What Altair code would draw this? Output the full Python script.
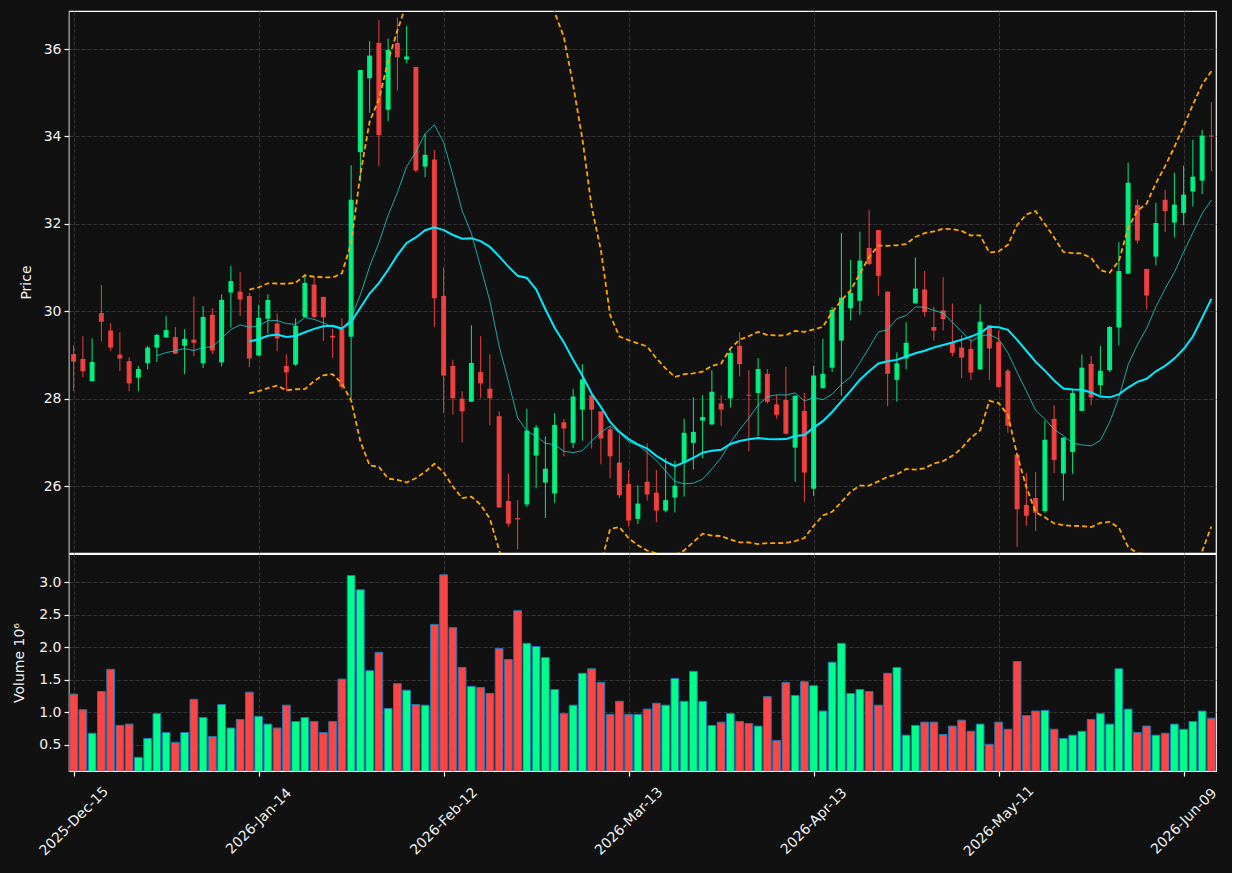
import altair as alt
import pandas as pd

tick_labels = ["2025-Dec-15", "2026-Jan-14", "2026-Feb-12", "2026-Mar-13",
               "2026-Apr-13", "2026-May-11", "2026-Jun-09"]

opens = [29.02, 28.91, 28.40, 29.96, 29.56, 29.01, 28.86, 28.48, 28.81, 29.17,
         29.40, 29.41, 29.21, 29.35, 28.81, 29.92, 28.83, 30.43, 30.45, 30.35,
         28.99, 29.83, 29.72, 28.75, 28.78, 29.87, 30.61, 30.33, 29.44, 29.60,
         29.42, 33.64, 35.33, 36.14, 34.61, 36.14, 35.76, 35.59, 33.31, 33.47,
         30.35, 28.75, 28.00, 27.93, 28.61, 28.23, 27.60, 25.66, 25.27, 25.58,
         26.70, 26.08, 25.83, 27.46, 26.99, 27.75, 28.08, 27.71, 27.30, 26.54,
         26.05, 25.25, 26.10, 25.85, 25.44, 25.74, 26.53, 26.99, 27.50, 27.41,
         27.89, 28.01, 29.21, 28.09, 28.13, 28.57, 27.87, 27.97, 26.88, 27.72,
         25.94, 28.24, 28.71, 29.33, 30.07, 30.24, 31.45, 31.86, 30.45, 28.43,
         28.92, 30.18, 30.50, 29.64, 30.02, 29.29, 29.17, 29.14, 28.67, 29.68,
         29.30, 28.64, 26.72, 25.57, 25.73, 25.43, 27.54, 26.29, 26.78, 27.72,
         28.80, 28.31, 28.65, 29.63, 30.86, 32.43, 30.97, 31.25, 32.55, 32.03,
         32.25, 32.74, 32.99, 34.02]

highs = [29.22, 29.43, 29.38, 30.60, 29.73, 29.52, 28.95, 28.75, 29.21, 29.48,
         29.89, 29.64, 29.59, 30.34, 30.12, 30.07, 30.39, 31.04, 30.90, 30.42,
         30.15, 30.39, 29.95, 29.02, 29.84, 30.84, 30.78, 30.33, 29.60, 29.84,
         33.34, 35.52, 36.18, 36.66, 36.24, 36.72, 36.53, 35.59, 34.06, 33.69,
         31.00, 28.89, 28.17, 29.68, 29.43, 29.02, 27.71, 26.28, 25.68, 27.77,
         27.40, 27.14, 27.67, 27.54, 28.23, 28.79, 28.11, 27.71, 27.38, 27.19,
         26.36, 26.02, 26.98, 26.37, 26.64, 26.58, 27.54, 28.03, 28.08, 28.65,
         28.08, 29.13, 29.52, 28.65, 28.93, 28.68, 28.09, 28.73, 28.07, 28.13,
         28.75, 29.37, 30.10, 31.79, 31.18, 31.82, 32.32, 31.86, 30.45, 29.06,
         29.75, 31.23, 30.92, 30.10, 30.78, 30.18, 29.45, 29.45, 30.16, 29.68,
         29.56, 28.68, 26.72, 26.30, 26.32, 27.50, 27.85, 27.11, 28.23, 29.01,
         28.98, 29.21, 29.66, 31.58, 33.40, 32.56, 30.97, 32.48, 32.78, 33.17,
         33.33, 33.92, 34.15, 34.79]

lows = [28.17, 28.49, 28.40, 29.31, 29.09, 28.63, 28.17, 28.17, 28.67, 28.84,
        29.40, 29.02, 28.56, 28.97, 28.70, 29.02, 28.74, 29.63, 29.89, 28.72,
        28.97, 29.49, 29.09, 28.17, 28.75, 29.87, 29.84, 29.32, 28.93, 28.21,
        28.01, 32.97, 34.54, 33.32, 34.35, 35.05, 35.68, 33.18, 33.07, 29.64,
        27.67, 27.64, 27.00, 27.93, 28.01, 27.39, 25.51, 25.07, 24.55, 25.52,
        25.95, 25.27, 25.62, 26.68, 26.87, 27.04, 26.86, 26.50, 26.18, 25.73,
        25.07, 25.13, 25.67, 25.17, 25.40, 25.40, 25.76, 26.38, 26.64, 27.41,
        27.38, 27.80, 28.51, 26.80, 27.14, 27.89, 27.54, 27.18, 26.10, 25.64,
        25.77, 28.24, 28.61, 28.07, 29.79, 29.92, 31.05, 30.36, 27.83, 27.93,
        28.67, 30.18, 29.88, 29.33, 29.56, 28.97, 28.47, 28.43, 28.67, 28.43,
        28.24, 27.22, 24.61, 25.09, 24.97, 25.39, 26.30, 25.67, 26.28, 27.72,
        27.85, 28.09, 28.61, 29.22, 30.86, 31.55, 30.04, 31.05, 31.81, 31.69,
        31.97, 32.40, 32.68, 33.21]

closes = [28.85, 28.63, 28.84, 29.76, 29.17, 28.92, 28.35, 28.68, 29.17, 29.46,
          29.57, 29.03, 29.37, 29.28, 29.87, 29.10, 30.26, 30.69, 30.27, 28.92,
          29.85, 30.26, 29.38, 28.60, 29.67, 30.65, 29.87, 29.86, 29.40, 28.27,
          32.55, 35.52, 35.85, 34.03, 35.98, 35.81, 35.83, 33.22, 33.58, 30.30,
          28.53, 28.01, 27.71, 28.82, 28.35, 28.01, 25.51, 25.14, 25.24, 27.27,
          27.34, 26.40, 27.40, 27.32, 28.05, 28.44, 27.75, 27.09, 26.68, 25.79,
          25.21, 25.60, 25.81, 25.44, 25.68, 26.01, 27.22, 27.24, 27.58, 28.16,
          27.75, 29.05, 28.79, 28.07, 28.68, 27.93, 27.63, 27.20, 28.07, 26.31,
          28.53, 28.57, 30.03, 30.31, 30.42, 31.16, 31.08, 30.81, 28.57, 28.81,
          29.28, 30.52, 29.98, 29.56, 29.82, 29.05, 28.94, 28.60, 29.76, 29.15,
          28.27, 27.38, 25.47, 25.32, 25.39, 27.06, 26.60, 27.11, 28.13, 28.71,
          28.03, 28.64, 29.64, 30.92, 32.94, 31.62, 30.36, 32.02, 32.29, 32.44,
          32.67, 33.08, 34.02, 34.00]

volumes = [1.28, 1.04, 0.68, 1.32, 1.66, 0.80, 0.82, 0.31, 0.60, 0.98,
           0.69, 0.54, 0.69, 1.20, 0.92, 0.63, 1.12, 0.76, 0.89, 1.31,
           0.94, 0.82, 0.76, 1.11, 0.86, 0.92, 0.86, 0.69, 0.86, 1.51,
           3.10, 2.88, 1.64, 1.92, 1.06, 1.44, 1.34, 1.12, 1.11, 2.35,
           3.11, 2.30, 1.69, 1.40, 1.38, 1.29, 1.98, 1.81, 2.56, 2.06,
           2.01, 1.84, 1.35, 0.98, 1.11, 1.60, 1.67, 1.46, 0.97, 1.17,
           0.97, 0.97, 1.05, 1.14, 1.11, 1.52, 1.17, 1.63, 1.17, 0.80,
           0.85, 0.98, 0.86, 0.83, 0.79, 1.24, 0.57, 1.46, 1.26, 1.47,
           1.41, 1.02, 1.77, 2.06, 1.29, 1.35, 1.32, 1.11, 1.60, 1.69,
           0.65, 0.80, 0.85, 0.85, 0.66, 0.79, 0.88, 0.71, 0.82, 0.51,
           0.85, 0.74, 1.78, 0.95, 1.02, 1.03, 0.74, 0.60, 0.65, 0.71,
           0.89, 0.98, 0.82, 1.67, 1.05, 0.69, 0.79, 0.65, 0.68, 0.82,
           0.74, 0.86, 1.02, 0.91]

price_ticks = [26, 28, 30, 32, 34, 36]
volume_ticks = [0.5, 1.0, 1.5, 2.0, 2.5, 3.0]

n = len(closes)
df = pd.DataFrame({
    "idx": list(range(n)),
    "open": opens, "high": highs, "low": lows, "close": closes,
    "volume": volumes,
})
df["dir"] = ["up" if c >= o else "down" for o, c in zip(opens, closes)]

FONT = "DejaVu Sans"
W = 1147
x_scale = alt.Scale(domain=[-0.5, n - 0.5], nice=False, zero=False)
price_scale = alt.Scale(domain=[24.47, 36.87], nice=False, zero=False)
vol_scale = alt.Scale(domain=[0.10, 3.43], nice=False, zero=False)
tick_vals = [20 * k for k in range(len(tick_labels))]
label_expr = "[" + ",".join("'%s'" % t for t in tick_labels) + "][round(datum.value/20)]"

candle_colors = alt.Scale(domain=["up", "down"], range=["#00ff88", "#ff4444"])
col = alt.Color("dir:N", scale=candle_colors, legend=None)

x_top_axis = alt.Axis(values=tick_vals, labels=False, ticks=False, domain=False,
                      grid=True, title=None)
price_axis = alt.Axis(values=price_ticks, title="Price", titleX=-43,
                      titleBaseline="middle", labelPadding=3)


def xq(field):
    return alt.X(field, type="quantitative", scale=x_scale, axis=x_top_axis, title=None)


def yp(field):
    return alt.Y(field, type="quantitative", scale=price_scale, axis=price_axis,
                 title="Price")


base = alt.Chart(df)

wicks = base.mark_rule(strokeWidth=1, opacity=0.9, clip=True).encode(
    x=xq("idx"), y=yp("low"), y2="high:Q", color=col)

bodies = base.transform_calculate(
    x0="datum.idx - 0.27", x1="datum.idx + 0.27"
).mark_bar(opacity=0.9, clip=True).encode(
    x=xq("x0"), x2="x1:Q", y=yp("open"), y2="close:Q", color=col)

ma10 = base.transform_window(
    ma10="mean(close)", frame=[-9, 0], sort=[alt.SortField("idx")]
).transform_filter("datum.idx >= 9").mark_line(
    color="#22d8d8", strokeWidth=1, opacity=0.75, clip=True
).encode(x=xq("idx"), y=yp("ma10"))

bb = base.transform_window(
    ma20="mean(close)", sd="stdevp(close)", frame=[-19, 0], sort=[alt.SortField("idx")]
).transform_filter("datum.idx >= 19").transform_calculate(
    upper="datum.ma20 + 2 * datum.sd", lower="datum.ma20 - 2 * datum.sd")

ma20 = bb.mark_line(color="#00eaff", strokeWidth=2, clip=True).encode(
    x=xq("idx"), y=yp("ma20"))
upper = bb.mark_line(color="orange", strokeWidth=1.8, strokeDash=[5, 3], clip=True).encode(
    x=xq("idx"), y=yp("upper"))
lower = bb.mark_line(color="orange", strokeWidth=1.8, strokeDash=[5, 3], clip=True).encode(
    x=xq("idx"), y=yp("lower"))

top = alt.layer(wicks, bodies, ma10, ma20, upper, lower).properties(width=W, height=542)

x_bottom_axis = alt.Axis(values=tick_vals, labelExpr=label_expr, labelAngle=-45,
                         labelAlign="center", labelBaseline="middle", labelPadding=45,
                         labelFlush=False, labelOverlap=False, grid=True, ticks=True,
                         domain=False, title=None)

vol = base.transform_calculate(
    x0="datum.idx - 0.42", x1="datum.idx + 0.42"
).mark_bar(stroke="#1f77b4", strokeWidth=1, clip=True).encode(
    x=alt.X("x0:Q", scale=x_scale, axis=x_bottom_axis, title=None),
    x2="x1:Q",
    y=alt.Y("volume:Q", scale=vol_scale,
            axis=alt.Axis(values=volume_ticks, format=".1f", title="Volume  10\u2076",
                          titleX=-50, titleBaseline="middle", labelPadding=3)),
    y2=alt.datum(0),
    color=alt.Color("dir:N", scale=candle_colors, legend=None),
).properties(width=W, height=217)

chart = alt.vconcat(top, vol, spacing=1, bounds="flush").properties(
    background="#111111",
    padding={"left": 11, "top": 10, "right": 12, "bottom": 14},
).configure_view(
    stroke="white", strokeWidth=1.2, fill="#111111"
).configure_axis(
    labelFont=FONT, labelFontSize=14, labelColor="#f0f0f0",
    titleFont=FONT, titleFontSize=14, titleColor="#f0f0f0", titleFontWeight="normal",
    tickColor="white", tickSize=5, tickWidth=1.2,
    gridColor="#3a3a3a", gridDash=[4, 2], gridWidth=0.9,
)

chart.save("out.html", embed_options={"renderer": "svg", "actions": False})
